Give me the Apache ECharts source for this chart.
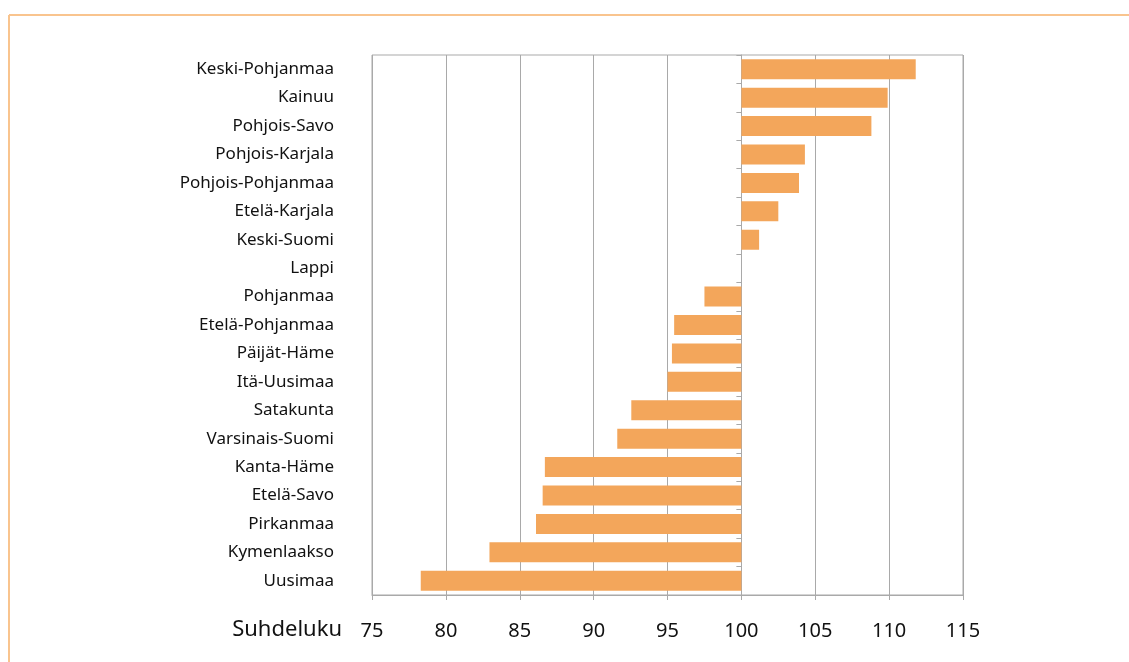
<!doctype html>
<html lang="fi">
<head>
    <meta charset="UTF-8">
    <script src="https://cdn.jsdelivr.net/npm/echarts@6/dist/echarts.min.js"></script>
    <title>Suhdeluku maakunnittain</title>
    <style>
        html, body { margin: 0; padding: 0; background: #fff; }
    </style>
</head>
<body>
<div id="main" style="width: 1129px;height:662px;"></div>
<script>
    // maakunnat ylhäältä alas
    var regions = ['Keski-Pohjanmaa', 'Kainuu', 'Pohjois-Savo', 'Pohjois-Karjala', 'Pohjois-Pohjanmaa',
        'Etelä-Karjala', 'Keski-Suomi', 'Lappi', 'Pohjanmaa', 'Etelä-Pohjanmaa', 'Päijät-Häme',
        'Itä-Uusimaa', 'Satakunta', 'Varsinais-Suomi', 'Kanta-Häme', 'Etelä-Savo', 'Pirkanmaa',
        'Kymenlaakso', 'Uusimaa'];
    var ratio = [111.8, 109.9, 108.8, 104.3, 103.9, 102.5, 101.2, 100, 97.5, 95.45, 95.3,
        95.0, 92.55, 91.6, 86.7, 86.55, 86.1, 82.95, 78.3];
    var xTicks = [75, 80, 85, 90, 95, 100, 105, 110, 115];
    var base = 100; // pylväät lähtevät sadasta

    var myChart = echarts.init(document.getElementById('main'));
    var font = 'Noto Sans';

    var option = {
        animation: false,
        grid: {
            left: 372, right: 166, top: 55, bottom: 67,
            show: true, borderColor: '#a9a9a9', borderWidth: 1
        },
        graphic: [
            // kehys
            {type: 'line', shape: {x1: 9, y1: 15, x2: 1129, y2: 15}, style: {stroke: '#f9c48e', lineWidth: 2}},
            {type: 'line', shape: {x1: 9, y1: 15, x2: 9, y2: 662}, style: {stroke: '#f9c48e', lineWidth: 2}},
            {type: 'text', right: 1129 - 342, top: 619,
                style: {text: 'Suhdeluku', font: '22px "' + font + '"', fill: '#111'}}
        ],
        xAxis: {
            type: 'value',
            min: xTicks[0] - base,
            max: xTicks[xTicks.length - 1] - base,
            interval: 5,
            axisLine: {show: true, onZero: false, lineStyle: {color: '#a9a9a9'}},
            axisTick: {show: true, length: 5, lineStyle: {color: '#a9a9a9'}},
            splitLine: {show: true, lineStyle: {color: '#a9a9a9', width: 1}},
            axisLabel: {
                color: '#111', fontFamily: font, fontSize: 20, margin: 26,
                formatter: function (v) { return v + base; }
            }
        },
        yAxis: [{
            type: 'category',
            data: regions,
            inverse: true,
            axisLine: {show: false, onZero: false},
            axisTick: {show: false},
            axisLabel: {color: '#111', fontFamily: font, fontSize: 17, margin: 38}
        }, {
            type: 'category',
            data: regions,
            inverse: true,
            position: 'left',
            axisLine: {show: true, onZero: true, lineStyle: {color: '#a9a9a9'}},
            axisTick: {show: true, length: 5, lineStyle: {color: '#a9a9a9'}},
            axisLabel: {show: false}
        }],
        series: [{
            type: 'bar',
            yAxisIndex: 0,
            barWidth: 20,
            itemStyle: {color: '#f3a65b'},
            data: ratio.map(function (v) { return +(v - base).toFixed(2); })
        }]
    };

    myChart.setOption(option);
</script>
</body>
</html>
